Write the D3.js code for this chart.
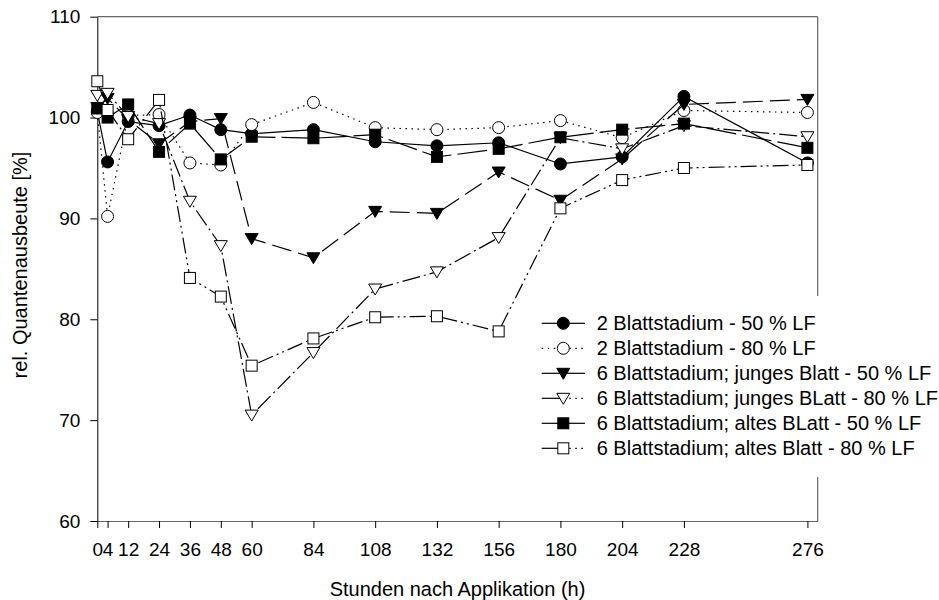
<!DOCTYPE html>
<html>
<head>
<meta charset="utf-8">
<script src="https://cdn.jsdelivr.net/npm/d3@7"></script>
<style>
    body { margin: 0; background: #fff; }
    text { font-family: Arial, "Liberation Sans", sans-serif; fill: #000; }
</style>
</head>
<body>
<script>
(function () {
    'use strict';

    // hours after application
    var hours = [0, 4, 12, 24, 36, 48, 60, 84, 108, 132, 156, 180, 204, 228, 276];
    var yTicks = [60, 70, 80, 90, 100, 110];

    var seriesNames = [
        '2 Blattstadium - 50 % LF',
        '2 Blattstadium - 80 % LF',
        '6 Blattstadium; junges Blatt - 50 % LF',
        '6 Blattstadium; junges BLatt - 80 % LF',
        '6 Blattstadium; altes BLatt - 50 % LF',
        '6 Blattstadium; altes Blatt - 80 % LF'
    ];

    var blatt2_50 = [100.6, 95.6, 99.6, 99.2, 100.25, 98.8, 98.4, 98.8, 97.6, 97.2, 97.5, 95.4, 96.1, 102.1, 95.5];
    var blatt2_80 = [100.5, 90.2, 100.2, 100.3, 95.5, 95.3, 99.3, 101.5, 99.0, 98.8, 99.0, 99.7, 98.0, 100.7, 100.5];
    var jung_50 = [101.0, 101.9, 99.8, 97.4, 99.6, 99.9, 88.0, 86.1, 90.7, 90.5, 94.6, 91.8, 95.9, 101.3, 101.8];
    var jung_80 = [102.2, 102.4, 100.1, 99.4, 91.7, 87.3, 70.5, 76.7, 83.0, 84.7, 88.1, 98.0, 96.9, 99.2, 98.1];
    var alt_50 = [100.9, 100.0, 101.3, 96.6, 99.4, 95.85, 98.1, 97.95, 98.3, 96.1, 96.9, 98.05, 98.8, 99.4, 97.0];
    var alt_80 = [103.6, 100.75, 97.85, 101.75, 84.1, 82.25, 75.4, 78.1, 80.2, 80.3, 78.8, 91.0, 93.8, 95.0, 95.3];

    var allSeries = [blatt2_50, blatt2_80, jung_50, jung_80, alt_50, alt_80];

    // line style and marker for every series
    var dashes = ['', '1.5,4.5', '20,7', '18,4,2,4', '30,6', '16,4,2,4,2,4'];
    var legendRight = ['', '1.5,4.5', '', '1.5,4.5', '', '1.5,4.5'];
    var shapes = ['circle', 'circle', 'tri', 'tri', 'square', 'square'];
    var filled = [true, false, true, false, true, false];

    var width = 939, height = 600;

    var x = d3.scaleLinear().domain([0, 280]).range([97.3, 817.7]);
    var y = d3.scaleLinear().domain([60, 110]).range([521, 16.7]);

    var svg = d3.select('body')
        .append('svg')
        .attr('width', width)
        .attr('height', height);

    // frame
    svg.append('line')
        .attr('x1', x(0)).attr('x2', x(280))
        .attr('y1', y(110)).attr('y2', y(110))
        .attr('stroke', '#666').attr('stroke-width', 1.2);
    svg.append('line')
        .attr('x1', x(280)).attr('x2', x(280))
        .attr('y1', y(110)).attr('y2', y(60))
        .attr('stroke', '#666').attr('stroke-width', 1.2);

    var xAxis = svg.append('g')
        .attr('transform', 'translate(0,' + y(60) + ')')
        .call(d3.axisBottom(x).tickValues(hours).tickSize(7).tickSizeOuter(0).tickPadding(15));
    xAxis.select('.domain').attr('stroke', '#666').attr('stroke-width', 1.2);
    xAxis.selectAll('text').attr('font-size', 19).attr('font-family', null);

    var yAxis = svg.append('g')
        .attr('transform', 'translate(' + x(0) + ',0)')
        .call(d3.axisLeft(y).tickValues(yTicks).tickSize(7).tickSizeOuter(0).tickPadding(10));
    yAxis.selectAll('text').attr('font-size', 19).attr('font-family', null);

    svg.append('text')
        .attr('x', (x(0) + x(280)) / 2)
        .attr('y', 596)
        .attr('text-anchor', 'middle')
        .attr('font-size', 20)
        .text('Stunden nach Applikation (h)');

    svg.append('text')
        .attr('transform', 'translate(27,265) rotate(-90)')
        .attr('text-anchor', 'middle')
        .attr('font-size', 20)
        .text('rel. Quantenausbeute [%]');

    function drawMarker(g, shape, isFilled) {
        var fill = isFilled ? '#000' : '#fff';
        if (shape === 'circle') {
            g.append('circle').attr('r', 6);
        } else if (shape === 'square') {
            g.append('rect').attr('x', -5.5).attr('y', -5.5).attr('width', 11).attr('height', 11);
        } else {
            g.append('path').attr('d', 'M-6.5,-5L6.5,-5L0,6Z');
        }
        g.selectAll('*').attr('fill', fill).attr('stroke', '#000').attr('stroke-width', 1);
    }

    var line = d3.line()
        .x(function (d) { return x(d[0]); })
        .y(function (d) { return y(d[1]); });

    allSeries.forEach(function (vals, i) {
        var pts = hours.map(function (h, j) { return [h, vals[j]]; });
        var g = svg.append('g');
        g.append('path')
            .attr('d', line(pts))
            .attr('fill', 'none')
            .attr('stroke', '#000')
            .attr('stroke-width', 1.2)
            .attr('stroke-dasharray', dashes[i] || null);
        g.selectAll('g.pt')
            .data(pts)
            .enter()
            .append('g')
            .attr('class', 'pt')
            .attr('transform', function (d) {
                return 'translate(' + x(d[0]) + ',' + y(d[1]) + ')';
            })
            .each(function () {
                drawMarker(d3.select(this), shapes[i], filled[i]);
            });
    });

    // legend
    var legend = svg.append('g');
    legend.append('rect')
        .attr('x', 530).attr('y', 296)
        .attr('width', 409).attr('height', 181)
        .attr('fill', '#fff');

    seriesNames.forEach(function (name, i) {
        var ly = 323.3 + i * 25;
        var row = legend.append('g');
        row.append('line')
            .attr('x1', 541.7).attr('x2', 563.3)
            .attr('y1', ly).attr('y2', ly)
            .attr('stroke', '#000').attr('stroke-width', 1.2)
            .attr('stroke-dasharray', i === 1 ? dashes[1] : null);
        row.append('line')
            .attr('x1', 563.3).attr('x2', 585)
            .attr('y1', ly).attr('y2', ly)
            .attr('stroke', '#000').attr('stroke-width', 1.2)
            .attr('stroke-dasharray', legendRight[i] || null);
        var m = row.append('g').attr('transform', 'translate(563.3,' + ly + ')');
        drawMarker(m, shapes[i], filled[i]);
        row.append('text')
            .attr('x', 596.7)
            .attr('y', ly)
            .attr('dy', '0.35em')
            .attr('font-size', 20)
            .text(name);
    });
}());
</script>
</body>
</html>
